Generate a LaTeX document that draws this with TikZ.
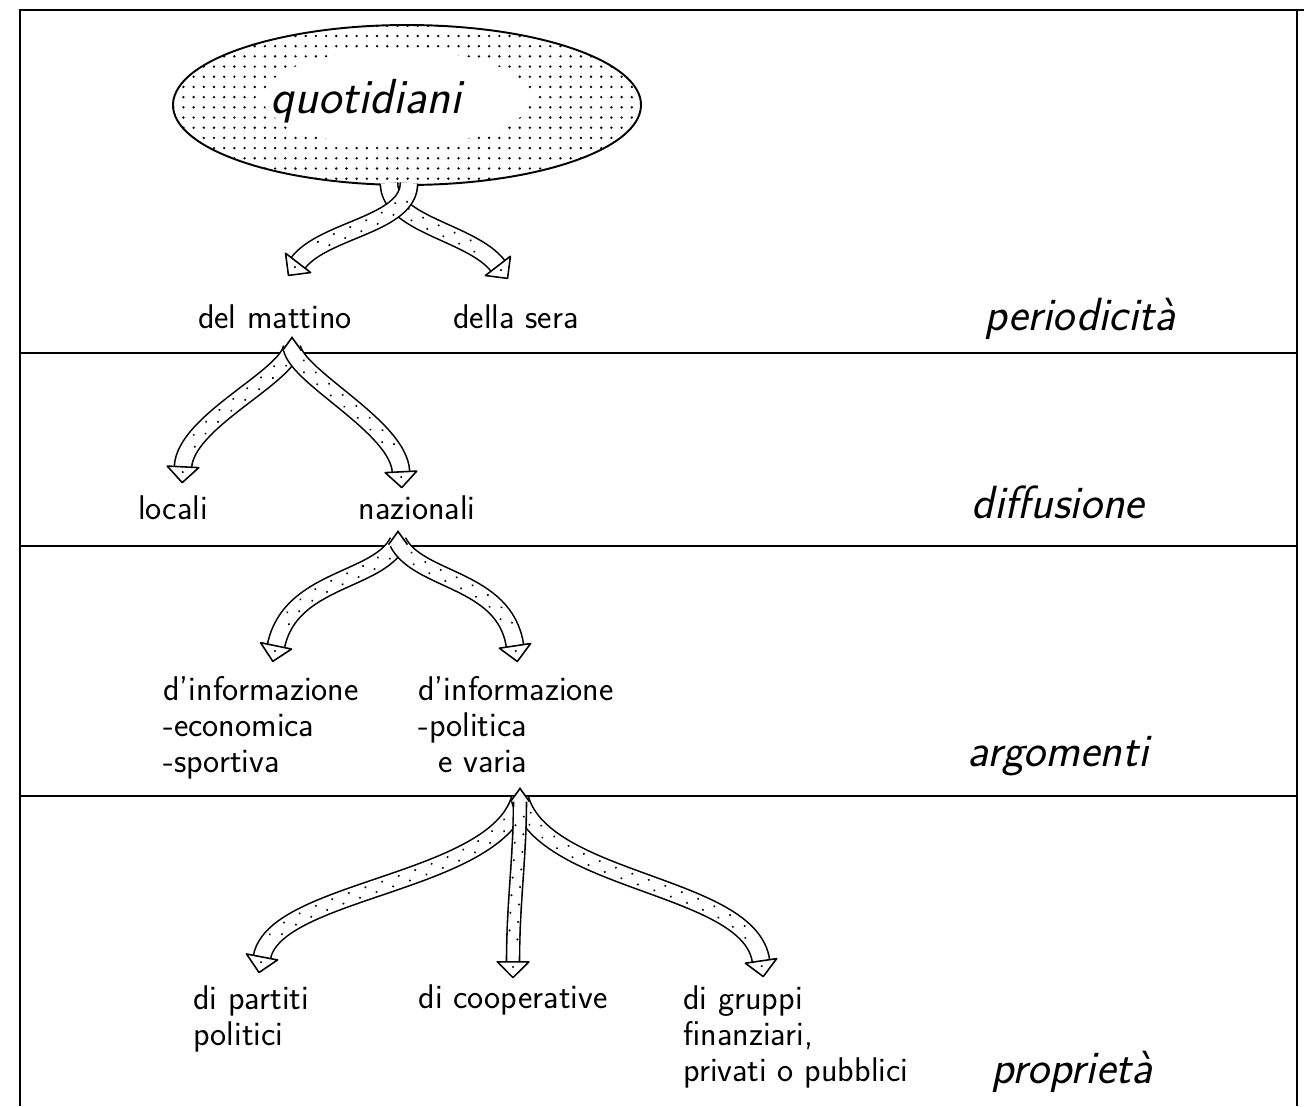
\documentclass[tikz,border=0pt]{standalone}
\usepackage{tikz}
\usetikzlibrary{calc,patterns.meta,decorations.markings}

\tikzset{
  frame/.style={line width=1.1pt},
  band/.style={line width=0.8pt},
  lbl/.style={inner sep=0pt, font=\sffamily\fontsize{19.5}{20.5}\selectfont},
  multi/.style={lbl, align=left, anchor=north west},
  key/.style={inner sep=0pt, anchor=base, font=\sffamily\slshape\fontsize{26.5}{30}\selectfont},
  speckle/.style={pattern={Dots[distance=5.8pt, radius=0.75pt]}},
  ribbon/.style={draw=white, line width=#1,
    preaction={draw=black, line width=#1+1.8pt},
    postaction={decorate, decoration={markings,
      mark=between positions 10pt and -12pt step 10pt with {\fill[black] (0,2.3pt) circle (0.65pt);},
      mark=between positions 15pt and -12pt step 10pt with {\fill[black] (0,-2.3pt) circle (0.65pt);},
      mark=at position 0.999 with {\draw[draw=black, fill=white, line width=0.9pt, line join=round] (0,-9pt) -- (9pt,0) -- (0,9pt) -- cycle; \fill[black] (3pt,0) circle (0.65pt);}}}},
  ribbon/.default=9pt,
  cusp/.pic={\draw[fill=white, line width=0.9pt] (-5.4pt,-1.5pt) -- (0,6pt) -- (5.4pt,-1.5pt);},
}

\begin{document}
\begin{tikzpicture}[x=0.02cm, y=-0.02cm]
  \useasboundingbox (0,0) rectangle (1304,1106);
  \def\xl{20}
  \def\xr{1297}
  \draw[frame] (\xl,1106) -- (\xl,10) -- (1304,10);
  \draw[frame] (\xr,10) -- (\xr,1106);
  \foreach \y in {353,546,796}
    \draw[band] (\xl,\y) -- (\xr,\y);

  % labels of the tree
  \node[lbl, anchor=base] (mattino) at (275,328) {del mattino};
  \node[lbl, anchor=base] (sera) at (516,328) {della sera};
  \node[lbl, anchor=base] (locali) at (173,519) {locali};
  \node[lbl, anchor=base] (nazion) at (417,519) {nazionali};
  \node[multi] (infoL) at (163,676) {d'informazione\\-economica\\-sportiva};
  \node[multi] (infoR) at (418,676) {d'informazione\\-politica\\\hspace*{0.6em}e varia};
  \node[multi] (partiti) at (193,985) {di partiti\\politici};
  \node[lbl, anchor=base] (coop) at (513,1008) {di cooperative};
  \node[multi] (gruppi) at (683,985) {di gruppi\\finanziari,\\privati o pubblici};

  % criteria on the right
  \node[key] (period) at (1080,330) {periodicità};
  \node[key] (diffus) at (1058,518) {diffusione};
  \node[key] (argom) at (1058,766) {argomenti};
  \node[key] (propr) at (1072,1083) {proprietà};

  % the dotted oval
  \fill[speckle] (407,105) ellipse [x radius=234, y radius=80];
  \fill[white] (397,98) ellipse [x radius=134, y radius=48];
  \coordinate (stem) at (399,183);
  \draw[ribbon] ($(stem)+(-10,0)$) .. controls +(0,42) and +(-26,-34) .. ($(sera.base)+(-18,-62)$);
  \draw[ribbon] ($(stem)+(10,0)$) .. controls +(0,42) and +(26,-34) .. ($(mattino.base)+(23,-65)$);
  \draw[frame] (407,105) ++(96.6:234 and 80) arc [start angle=96.6, end angle=447.6, x radius=234, y radius=80];
  \node[key, font=\sffamily\slshape\fontsize{28}{30}\selectfont] (quot) at (366,113) {quotidiani};

  \coordinate (a2) at ($(mattino.base)+(17,20)$);
  \draw[ribbon] (a2) .. controls +(-6,30) and +(2,-45) .. ($(locali.base)+(10,-52)$);
  \draw[ribbon] (a2) .. controls +(6,30) and +(-2,-45) .. ($(nazion.base)+(-16,-47)$);
  \pic at (a2) {cusp};

  \coordinate (a3) at ($(nazion.base)+(-19,23)$);
  \draw[ribbon] (a3) .. controls +(-20,40) and +(14,-68) .. ($(infoL.north west)+(113,-30)$);
  \draw[ribbon] (a3) .. controls +(20,40) and +(-10,-68) .. ($(infoR.north west)+(97,-30)$);
  \pic at (a3) {cusp};

  \coordinate (a4) at ($(infoR.north west)+(102,123)$);
  \draw[ribbon] (a4) .. controls +(-25,85) and +(13,-68) .. ($(partiti.north west)+(69,-28)$);
  \draw[ribbon] (a4) .. controls +(25,85) and +(-11,-77) .. ($(gruppi.north west)+(78,-24)$);
  \draw[ribbon=6.5pt] (a4) .. controls +(0,60) and +(0,-60) .. ($(coop.base)+(0,-46)$);
  \pic at (a4) {cusp};
\end{tikzpicture}
\end{document}
